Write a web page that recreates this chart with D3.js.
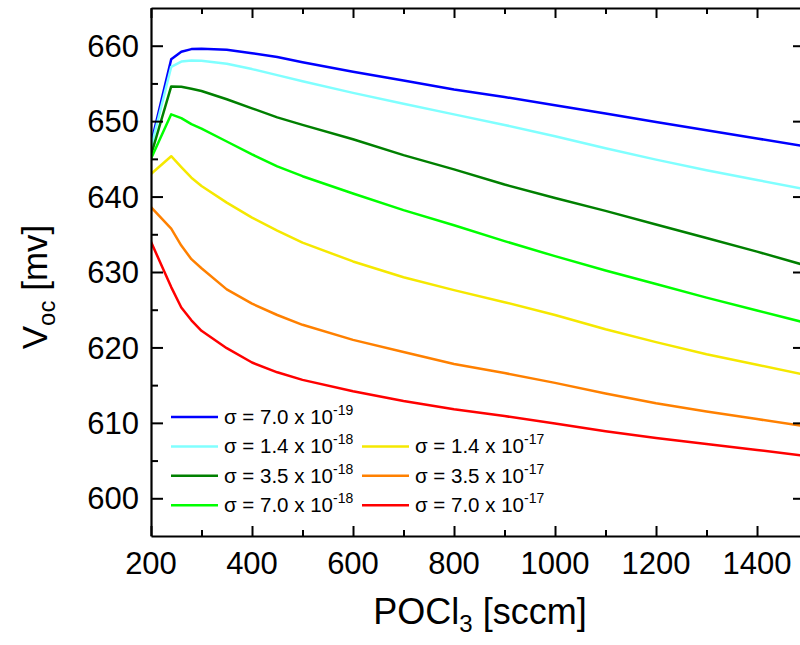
<!DOCTYPE html>
<html>
<head>
<meta charset="utf-8">
<script src="https://cdn.jsdelivr.net/npm/d3@7"></script>
<style>
  html, body { margin: 0; padding: 0; background: #fff; }
  svg { display: block; }
  text { font-family: "Liberation Sans", Arial, sans-serif; fill: #000; }
</style>
</head>
<body>
<svg id="chart" width="800" height="645"></svg>
<script>
// ---- data ----
const pocl3 = [200, 240, 260, 280, 300, 350, 400, 450, 500, 600, 700, 800, 900, 1000, 1100, 1200, 1300, 1400, 1500];

const s7e19  = [647.0, 658.2, 659.2, 659.55, 659.6, 659.45, 659.0, 658.5, 657.8, 656.55, 655.4, 654.2, 653.2, 652.1, 651.0, 649.9, 648.8, 647.7, 646.6];
const s14e18 = [646.5, 657.2, 657.9, 658.05, 658.0, 657.6, 656.9, 656.1, 655.3, 653.75, 652.3, 650.9, 649.5, 648.0, 646.4, 644.9, 643.5, 642.2, 640.9];
const s35e18 = [645.5, 654.6, 654.55, 654.3, 654.0, 652.9, 651.7, 650.5, 649.5, 647.6, 645.5, 643.6, 641.6, 639.8, 638.1, 636.3, 634.5, 632.7, 630.8];
const s7e18  = [645.0, 650.9, 650.4, 649.6, 649.0, 647.3, 645.6, 644.0, 642.7, 640.4, 638.2, 636.2, 634.1, 632.1, 630.2, 628.4, 626.6, 624.9, 623.2];
const s14e17 = [643.0, 645.35, 643.9, 642.5, 641.4, 639.2, 637.2, 635.5, 633.9, 631.4, 629.3, 627.6, 626.0, 624.3, 622.4, 620.7, 619.1, 617.7, 616.3];
const s35e17 = [638.6, 635.75, 633.5, 631.7, 630.5, 627.7, 625.8, 624.3, 623.0, 621.0, 619.4, 617.8, 616.6, 615.3, 613.9, 612.6, 611.5, 610.5, 609.5];
const s7e17  = [634.0, 628.0, 625.3, 623.6, 622.2, 619.9, 618.0, 616.7, 615.7, 614.2, 612.9, 611.8, 610.9, 609.9, 608.9, 608.0, 607.2, 606.4, 605.6];

const seriesMantissa = ["7.0", "1.4", "3.5", "7.0", "1.4", "3.5", "7.0"];
const seriesExponent = ["-19", "-18", "-18", "-18", "-17", "-17", "-17"];
const seriesValues = [s7e19, s14e18, s35e18, s7e18, s14e17, s35e17, s7e17];
const seriesColors = ["#0000ff", "#80ffff", "#008000", "#00ff00", "#f5e800", "#ff8000", "#ff0000"];

const xTickMajor = [200, 400, 600, 800, 1000, 1200, 1400];
const xTickAll = [200, 300, 400, 500, 600, 700, 800, 900, 1000, 1100, 1200, 1300, 1400];
const yTickMajor = [600, 610, 620, 630, 640, 650, 660];
const yTickAll = [600, 605, 610, 615, 620, 625, 630, 635, 640, 645, 650, 655, 660];

// ---- layout ----
const svg = d3.select("#chart");
const L = 151, R = 805, T = 8, B = 536;

const x = d3.scaleLinear().domain([200, 1495]).range([L, R]);
const y = d3.scaleLinear().domain([595, 665]).range([B, T]);

svg.append("defs").append("clipPath").attr("id", "clip")
  .append("rect").attr("x", L).attr("y", T).attr("width", R - L).attr("height", B - T);

// curves
const line = d3.line().x((d, i) => x(pocl3[i])).y(d => y(d));
const plot = svg.append("g").attr("clip-path", "url(#clip)");
seriesValues.forEach((vals, k) => {
  plot.append("path")
    .datum(vals)
    .attr("d", line)
    .attr("fill", "none")
    .attr("stroke", seriesColors[k])
    .attr("stroke-width", 2.5)
    .attr("stroke-linejoin", "round");
});

// axes with inward ticks
const isMajorX = v => xTickMajor.includes(v);
const isMajorY = v => yTickMajor.includes(v);

const bottomAxis = svg.append("g").attr("transform", `translate(0,${B})`)
  .call(d3.axisBottom(x).tickValues(xTickAll).tickFormat("").tickSizeOuter(0).tickSizeInner(0));
bottomAxis.selectAll(".tick line").attr("y2", d => isMajorX(d) ? -10 : -6);

const topAxis = svg.append("g").attr("transform", `translate(0,${T})`)
  .call(d3.axisTop(x).tickValues(xTickAll).tickFormat("").tickSizeOuter(0).tickSizeInner(0));
topAxis.selectAll(".tick line").attr("y2", d => isMajorX(d) ? 10 : 6);

const leftAxis = svg.append("g").attr("transform", `translate(${L},0)`)
  .call(d3.axisLeft(y).tickValues(yTickAll).tickFormat("").tickSizeOuter(0).tickSizeInner(0));
leftAxis.selectAll(".tick line").attr("x2", d => isMajorY(d) ? 12 : 7);

const rightAxis = svg.append("g").attr("transform", `translate(${R},0)`)
  .call(d3.axisRight(y).tickValues(yTickMajor).tickFormat("").tickSizeOuter(0).tickSizeInner(0));
rightAxis.selectAll(".tick line").attr("x2", -12);

svg.selectAll(".domain").attr("stroke", "#000").attr("stroke-width", 2.2);
svg.selectAll(".tick line").attr("stroke", "#000").attr("stroke-width", 2);

// tick labels
svg.append("g").selectAll("text").data(xTickMajor).join("text")
  .attr("x", d => x(d)).attr("y", 574)
  .attr("text-anchor", "middle").attr("font-size", 31)
  .text(d => d);

svg.append("g").selectAll("text").data(yTickMajor).join("text")
  .attr("x", 139).attr("y", d => y(d))
  .attr("dy", "0.36em")
  .attr("text-anchor", "end").attr("font-size", 31)
  .text(d => d);

// axis titles
const xt = svg.append("text").attr("x", 480).attr("y", 624)
  .attr("text-anchor", "middle").attr("font-size", 36);
xt.append("tspan").text("POCl");
xt.append("tspan").attr("font-size", 24).attr("dy", 8).text("3");
xt.append("tspan").attr("dy", -8).text(" [sccm]");

const yt = svg.append("text").attr("transform", "translate(47,287) rotate(-90)")
  .attr("text-anchor", "middle").attr("font-size", 35);
yt.append("tspan").text("V");
yt.append("tspan").attr("font-size", 24).attr("dy", 8).text("oc");
yt.append("tspan").attr("dy", -8).text(" [mv]");

// legend
const legendPos = [
  {col: 0, row: 0}, {col: 0, row: 1}, {col: 0, row: 2}, {col: 0, row: 3},
  {col: 1, row: 1}, {col: 1, row: 2}, {col: 1, row: 3}
];
const colX = [171, 362];
const rowY0 = 417, rowDy = 29.4;
const lg = svg.append("g");
legendPos.forEach((p, k) => {
  const lx = colX[p.col], ly = rowY0 + p.row * rowDy;
  lg.append("line").attr("x1", lx).attr("x2", lx + 47).attr("y1", ly).attr("y2", ly)
    .attr("stroke", seriesColors[k]).attr("stroke-width", 2.5);
  const t = lg.append("text").attr("x", lx + 53).attr("y", ly + 7).attr("font-size", 20.5);
  t.append("tspan").text(`σ = ${seriesMantissa[k]} x 10`);
  t.append("tspan").attr("font-size", 14).attr("dy", -9).text(seriesExponent[k]);
});
</script>
</body>
</html>
